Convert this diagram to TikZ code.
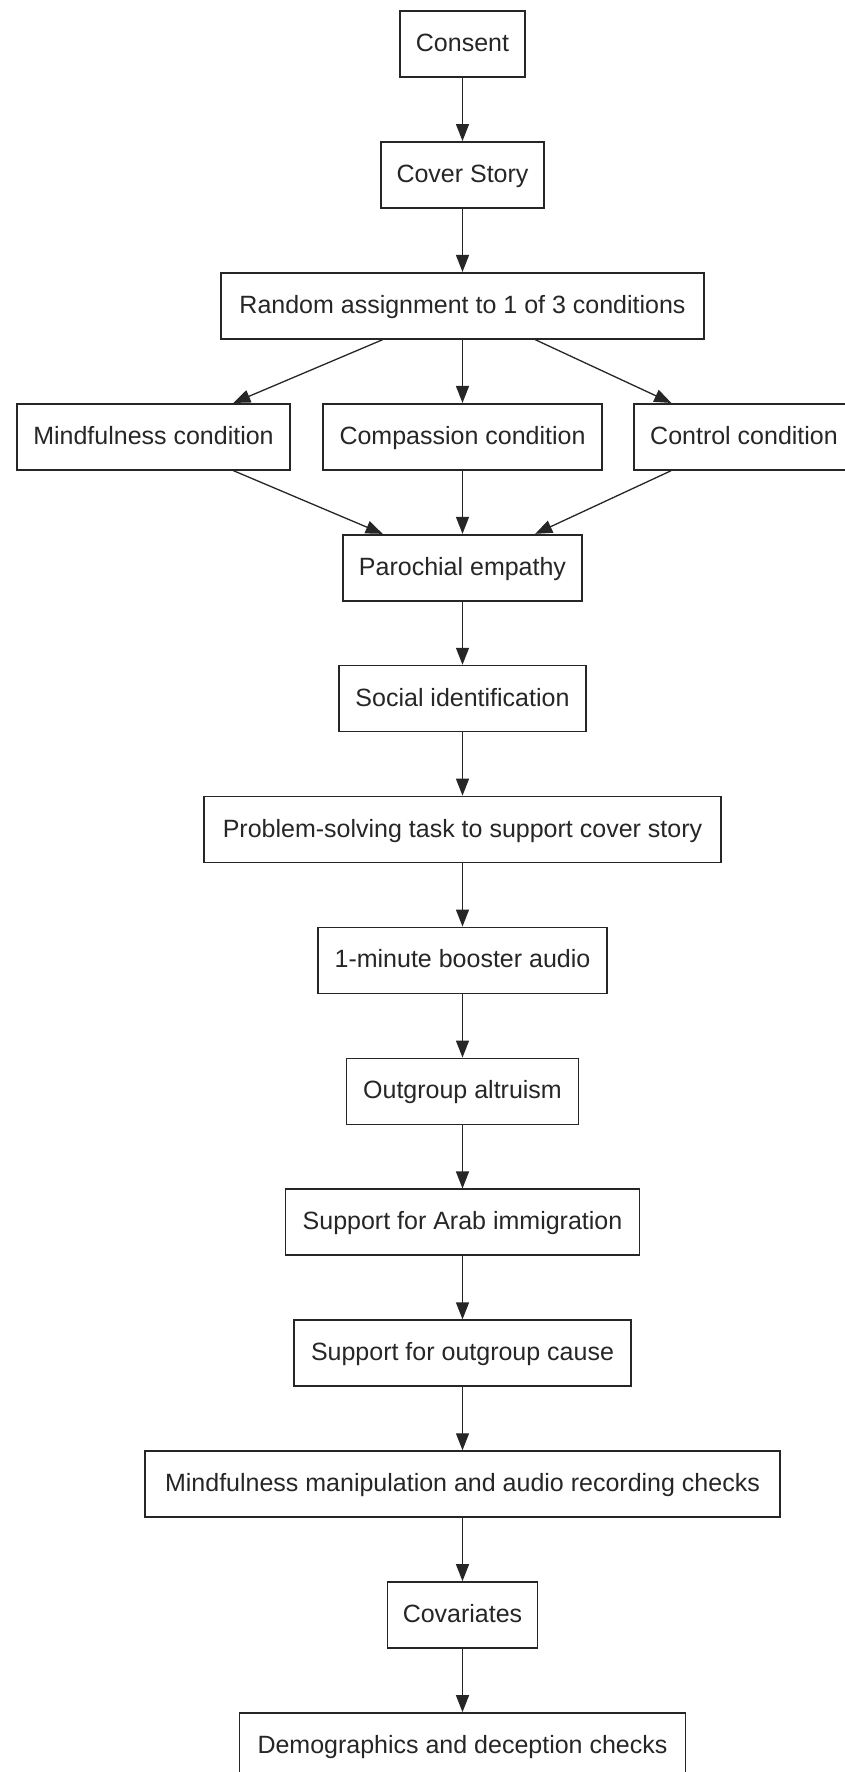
\documentclass[tikz,border=0pt]{standalone}
\usepackage{fontspec}
\setmainfont{Liberation Sans}
\usetikzlibrary{arrows.meta}
\begin{document}
\begin{tikzpicture}[x=1pt,y=-1pt,
  box/.style={draw=black!85, line width=1.7pt, fill=white, minimum height=66pt,
    inner sep=0pt, text height=19pt, text depth=4pt,
    font=\fontsize{25}{30}\selectfont, text=black!85},
  arr/.style={draw=black!85, line width=1.3pt, -{Triangle[length=17pt,width=13pt]}}]
\useasboundingbox (0,0) rectangle (845,1772);
\clip (0,0) rectangle (845,1772);
\node[box, minimum width=125pt] (consent) at (462.5,44) {Consent};
\node[box, minimum width=163pt] (cover) at (462.5,174.9) {Cover Story};
\node[box, minimum width=483pt] (random) at (462.5,305.8) {Random assignment to 1 of 3 conditions};
\node[box, minimum width=273pt] (mind) at (153.5,436.8) {Mindfulness condition};
\node[box, minimum width=279pt] (comp) at (462.5,436.8) {Compassion condition};
\node[box, minimum width=220pt] (ctrl) at (744,436.8) {Control condition};
\node[box, minimum width=239pt] (paro) at (462.5,567.7) {Parochial empathy};
\node[box, minimum width=247pt] (social) at (462.5,698.6) {Social identification};
\node[box, minimum width=517pt] (prob) at (462.5,829.5) {Problem-solving task to support cover story};
\node[box, minimum width=289pt] (boost) at (462.5,960.4) {1-minute booster audio};
\node[box, minimum width=232pt] (altru) at (462.5,1091.4) {Outgroup altruism};
\node[box, minimum width=354pt] (arab) at (462.5,1222.3) {Support for Arab immigration};
\node[box, minimum width=337pt] (cause) at (462.5,1353.2) {Support for outgroup cause};
\node[box, minimum width=635pt] (manip) at (462.5,1484.1) {Mindfulness manipulation and audio recording checks};
\node[box, minimum width=150pt] (cov) at (462.5,1615) {Covariates};
\node[box, minimum width=446pt] (demo) at (462.5,1746) {Demographics and deception checks};
\draw[arr] (consent) -- (cover);
\draw[arr] (cover) -- (random);
\draw[arr] (random) -- (mind);
\draw[arr] (random) -- (comp);
\draw[arr] (random) -- (ctrl);
\draw[arr] (mind) -- (paro);
\draw[arr] (comp) -- (paro);
\draw[arr] (ctrl) -- (paro);
\draw[arr] (paro) -- (social);
\draw[arr] (social) -- (prob);
\draw[arr] (prob) -- (boost);
\draw[arr] (boost) -- (altru);
\draw[arr] (altru) -- (arab);
\draw[arr] (arab) -- (cause);
\draw[arr] (cause) -- (manip);
\draw[arr] (manip) -- (cov);
\draw[arr] (cov) -- (demo);
\end{tikzpicture}
\end{document}
